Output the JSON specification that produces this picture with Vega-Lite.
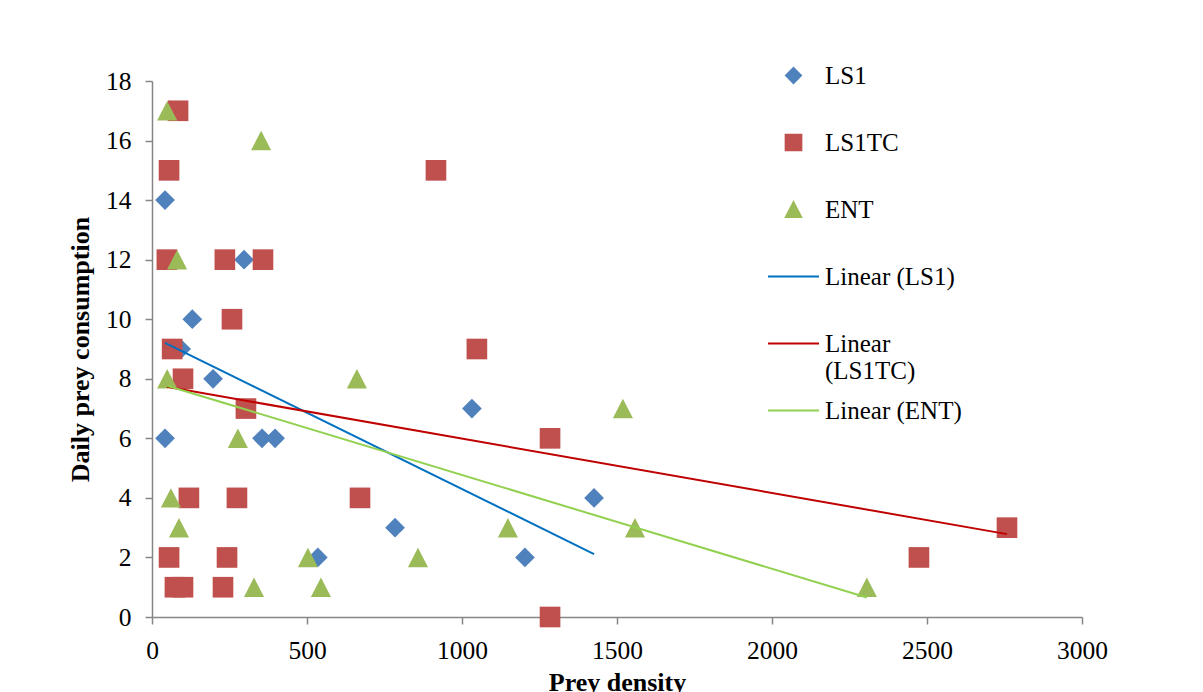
{
  "$schema": "https://vega.github.io/schema/vega-lite/v6.json",
  "width": 930,
  "height": 536,
  "autosize": "none",
  "padding": {"left": 152, "top": 81, "right": 121, "bottom": 75},
  "background": "white",
  "config": {
    "view": {"stroke": null},
    "font": "Liberation Serif",
    "legend": {"labelFont": "Liberation Serif", "labelFontSize": 25, "labelColor": "black"},
    "axis": {
      "grid": false,
      "domainColor": "#868686",
      "tickColor": "#868686",
      "domainWidth": 1.5,
      "tickWidth": 1.5,
      "tickSize": 7,
      "labelFont": "Liberation Serif",
      "labelFontSize": 25.5,
      "labelColor": "black",
      "labelFlush": false,
      "labelOverlap": false,
      "titleFont": "Liberation Serif",
      "titleFontSize": 26,
      "titleFontWeight": "bold",
      "titleColor": "black"
    }
  },
  "data": {
    "values": [
      {"series": "LS1", "trend": "Linear (LS1)", "density": 42, "consumption": 14},
      {"series": "LS1", "trend": "Linear (LS1)", "density": 42, "consumption": 6},
      {"series": "LS1", "trend": "Linear (LS1)", "density": 94, "consumption": 9},
      {"series": "LS1", "trend": "Linear (LS1)", "density": 130, "consumption": 10},
      {"series": "LS1", "trend": "Linear (LS1)", "density": 197, "consumption": 8},
      {"series": "LS1", "trend": "Linear (LS1)", "density": 297, "consumption": 12},
      {"series": "LS1", "trend": "Linear (LS1)", "density": 355, "consumption": 6},
      {"series": "LS1", "trend": "Linear (LS1)", "density": 397, "consumption": 6},
      {"series": "LS1", "trend": "Linear (LS1)", "density": 535, "consumption": 2},
      {"series": "LS1", "trend": "Linear (LS1)", "density": 784, "consumption": 3},
      {"series": "LS1", "trend": "Linear (LS1)", "density": 1032, "consumption": 7},
      {"series": "LS1", "trend": "Linear (LS1)", "density": 1203, "consumption": 2},
      {"series": "LS1", "trend": "Linear (LS1)", "density": 1426, "consumption": 4},
      {"series": "LS1TC", "trend": "Linear (LS1TC)", "density": 84, "consumption": 17},
      {"series": "LS1TC", "trend": "Linear (LS1TC)", "density": 55, "consumption": 15},
      {"series": "LS1TC", "trend": "Linear (LS1TC)", "density": 916, "consumption": 15},
      {"series": "LS1TC", "trend": "Linear (LS1TC)", "density": 48, "consumption": 12},
      {"series": "LS1TC", "trend": "Linear (LS1TC)", "density": 235, "consumption": 12},
      {"series": "LS1TC", "trend": "Linear (LS1TC)", "density": 358, "consumption": 12},
      {"series": "LS1TC", "trend": "Linear (LS1TC)", "density": 258, "consumption": 10},
      {"series": "LS1TC", "trend": "Linear (LS1TC)", "density": 65, "consumption": 9},
      {"series": "LS1TC", "trend": "Linear (LS1TC)", "density": 1048, "consumption": 9},
      {"series": "LS1TC", "trend": "Linear (LS1TC)", "density": 100, "consumption": 8},
      {"series": "LS1TC", "trend": "Linear (LS1TC)", "density": 303, "consumption": 7},
      {"series": "LS1TC", "trend": "Linear (LS1TC)", "density": 1284, "consumption": 6},
      {"series": "LS1TC", "trend": "Linear (LS1TC)", "density": 119, "consumption": 4},
      {"series": "LS1TC", "trend": "Linear (LS1TC)", "density": 274, "consumption": 4},
      {"series": "LS1TC", "trend": "Linear (LS1TC)", "density": 671, "consumption": 4},
      {"series": "LS1TC", "trend": "Linear (LS1TC)", "density": 55, "consumption": 2},
      {"series": "LS1TC", "trend": "Linear (LS1TC)", "density": 242, "consumption": 2},
      {"series": "LS1TC", "trend": "Linear (LS1TC)", "density": 74, "consumption": 1},
      {"series": "LS1TC", "trend": "Linear (LS1TC)", "density": 100, "consumption": 1},
      {"series": "LS1TC", "trend": "Linear (LS1TC)", "density": 229, "consumption": 1},
      {"series": "LS1TC", "trend": "Linear (LS1TC)", "density": 1284, "consumption": 0},
      {"series": "LS1TC", "trend": "Linear (LS1TC)", "density": 2474, "consumption": 2},
      {"series": "LS1TC", "trend": "Linear (LS1TC)", "density": 2758, "consumption": 3},
      {"series": "ENT", "trend": "Linear (ENT)", "density": 49, "consumption": 17},
      {"series": "ENT", "trend": "Linear (ENT)", "density": 352, "consumption": 16},
      {"series": "ENT", "trend": "Linear (ENT)", "density": 81, "consumption": 12},
      {"series": "ENT", "trend": "Linear (ENT)", "density": 49, "consumption": 8},
      {"series": "ENT", "trend": "Linear (ENT)", "density": 661, "consumption": 8},
      {"series": "ENT", "trend": "Linear (ENT)", "density": 277, "consumption": 6},
      {"series": "ENT", "trend": "Linear (ENT)", "density": 61, "consumption": 4},
      {"series": "ENT", "trend": "Linear (ENT)", "density": 87, "consumption": 3},
      {"series": "ENT", "trend": "Linear (ENT)", "density": 503, "consumption": 2},
      {"series": "ENT", "trend": "Linear (ENT)", "density": 329, "consumption": 1},
      {"series": "ENT", "trend": "Linear (ENT)", "density": 545, "consumption": 1},
      {"series": "ENT", "trend": "Linear (ENT)", "density": 1519, "consumption": 7},
      {"series": "ENT", "trend": "Linear (ENT)", "density": 1148, "consumption": 3},
      {"series": "ENT", "trend": "Linear (ENT)", "density": 858, "consumption": 2},
      {"series": "ENT", "trend": "Linear (ENT)", "density": 1558, "consumption": 3},
      {"series": "ENT", "trend": "Linear (ENT)", "density": 2306, "consumption": 1}
    ]
  },
  "layer": [
    {
      "mark": {"type": "point", "filled": true, "opacity": 1, "size": 4500},
      "encoding": {
        "x": {
          "field": "density", "type": "quantitative",
          "scale": {"domain": [0, 3000], "nice": false, "zero": false},
          "axis": {"values": [0, 500, 1000, 1500, 2000, 2500, 3000], "format": "d", "title": "Prey density", "labelPadding": 14, "titlePadding": 6}
        },
        "y": {
          "field": "consumption", "type": "quantitative",
          "scale": {"domain": [0, 18], "nice": false, "zero": false},
          "axis": {"values": [0, 2, 4, 6, 8, 10, 12, 14, 16, 18], "format": "d", "title": "Daily prey consumption", "labelPadding": 14, "titlePadding": 12}
        },
        "color": {
          "field": "series", "type": "nominal",
          "scale": {
            "domain": ["LS1", "LS1TC", "ENT", "Linear (LS1)", "Linear (LS1TC)", "Linear (ENT)"],
            "range": ["#4F81BD", "#C0504D", "#9BBB59", "#0070C0", "#C00000", "#92D050"]
          },
          "legend": {
            "title": null,
            "orient": "none",
            "legendX": 615,
            "legendY": -32,
            "padding": 0,
            "rowPadding": 0,
            "labelOffset": 5,
            "labelFont": "Liberation Serif",
            "labelFontSize": 25,
            "labelColor": "black",
            "labelLimit": 400,
            "symbolSize": 2601,
            "symbolStrokeWidth": 2,
            "labelExpr": "datum.label == 'Linear (LS1TC)' ? ['Linear', '(LS1TC)'] : [datum.label, '']",
            "encode": {
              "symbols": {"update": {
                "shape": {"scale": "shape", "field": "value"},
                "fill": {"scale": "color", "field": "value"},
                "stroke": {"scale": "color", "field": "value"},
                "strokeWidth": {"value": 2},
                "size": {"value": 2601},
                "opacity": {"value": 1}
              }}
            }
          }
        },
        "shape": {
          "field": "series", "type": "nominal",
          "scale": {
            "domain": ["LS1", "LS1TC", "ENT", "Linear (LS1)", "Linear (LS1TC)", "Linear (ENT)"],
            "range": [
              "M0,-0.294L0.294,0L0,0.294L-0.294,0Z",
              "M-0.308,-0.308L0.308,-0.308L0.308,0.308L-0.308,0.308Z",
              "M0,-0.29L0.3,0.29L-0.3,0.29Z",
              "stroke", "stroke", "stroke"
            ]
          },
          "legend": null
        }
      }
    },
    {
      "transform": [{"regression": "consumption", "on": "density", "groupby": ["trend"]}],
      "mark": {"type": "line", "strokeWidth": 2},
      "encoding": {
        "x": {"field": "density", "type": "quantitative"},
        "y": {"field": "consumption", "type": "quantitative"},
        "color": {"field": "trend", "type": "nominal"}
      }
    }
  ]
}
